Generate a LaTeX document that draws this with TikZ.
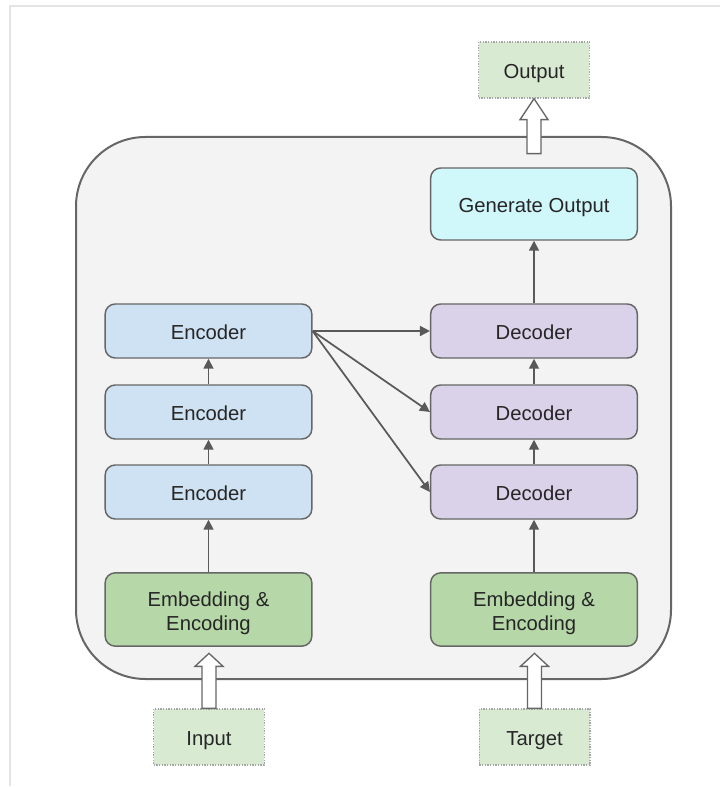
\documentclass[tikz,border=0pt]{standalone}
\usepackage{fontspec}
\setmainfont{Liberation Sans}
\usetikzlibrary{arrows.meta,calc}
\definecolor{bordergray}{HTML}{666666}
\definecolor{linegray}{HTML}{595959}
\definecolor{panel}{HTML}{F3F3F3}
\definecolor{encfill}{HTML}{CFE2F3}
\definecolor{decfill}{HTML}{D9D2E9}
\definecolor{embfill}{HTML}{B6D7A8}
\definecolor{genfill}{HTML}{D0F8FB}
\definecolor{iofill}{HTML}{D9EAD3}
\definecolor{framegray}{HTML}{E4E4E4}
\tikzset{
  block/.style={draw=bordergray, line width=1.1pt, rounded corners=7.5pt, minimum width=155pt, align=center, font=\fontsize{15.2}{18}\selectfont, text=black!85},
  oneline/.style={text height=12.5pt, text depth=0pt},
  encbox/.style={block, oneline, fill=encfill, minimum height=40.5pt},
  decbox/.style={block, oneline, fill=decfill, minimum height=40.5pt},
  embbox/.style={block, fill=embfill, minimum height=55pt, text height=32pt, text depth=0pt},
  genbox/.style={block, oneline, fill=genfill, minimum height=54pt},
  iobox/.style={draw=black!35, densely dotted, line width=1pt, fill=iofill, minimum width=83pt, minimum height=42pt, oneline, font=\fontsize{15.2}{18}\selectfont, text=black!85},
  conn/.style={draw=linegray, line width=1.3pt, -{Triangle[length=7.5pt,width=7.5pt]}},
  hollow/.style={draw=bordergray, line width=1pt, fill=white, line join=miter}
}
\begin{document}
\begin{tikzpicture}[x=0.75pt,y=-0.75pt]
\useasboundingbox (0,0) rectangle (720,787);
% faint outer frame
\draw[framegray, line width=1.5pt] (10,786) -- (10,6) -- (720,6);
% big panel
\draw[draw=bordergray, line width=1.5pt, fill=panel, rounded corners=52pt] (76,137) rectangle (671,679);

% nodes
\node[encbox] (e1) at (208.5,331) {Encoder};
\node[encbox] (e2) at (208.5,412) {Encoder};
\node[encbox] (e3) at (208.5,492) {Encoder};
\node[embbox] (emb1) at (208.5,609.5) {Embedding \&\\Encoding};
\node[decbox] (d1) at (534,331) {Decoder};
\node[decbox] (d2) at (534,412) {Decoder};
\node[decbox] (d3) at (534,492) {Decoder};
\node[embbox] (emb2) at (534,609.5) {Embedding \&\\Encoding};
\node[genbox] (gen) at (534,204) {Generate Output};
\node[iobox] (out) at (534,70) {Output};
\node[iobox] (in) at (209,737) {Input};
\node[iobox] (tgt) at (534.5,737) {Target};

% connectors
\draw[conn] (emb1.north) -- (e3.south);
\draw[conn] (e3.north) -- (e2.south);
\draw[conn] (e2.north) -- (e1.south);
\draw[conn] (emb2.north) -- (d3.south);
\draw[conn] (d3.north) -- (d2.south);
\draw[conn] (d2.north) -- (d1.south);
\draw[conn] (d1.north) -- (gen.south);
\draw[conn] (e1.east) -- (d1.west);
\draw[conn] (e1.east) -- (d2.west);
\draw[conn] (e1.east) -- (d3.west);

% hollow block arrows
\coordinate (ia) at (in.north);
\coordinate (ta) at (tgt.north);
\coordinate (oa) at (out.south);
\draw[hollow] ($(ia)+(-7,0)$) -- ++(0,-42) -- ++(-7,0) -- ($(ia)+(0,-55)$) -- ($(ia)+(14,-42)$) -- ++(-7,0) -- ($(ia)+(7,0)$) -- cycle;
\draw[hollow] ($(ta)+(-7,0)$) -- ++(0,-42) -- ++(-7,0) -- ($(ta)+(0,-55)$) -- ($(ta)+(14,-42)$) -- ++(-7,0) -- ($(ta)+(7,0)$) -- cycle;
\draw[hollow] ($(oa)+(-7,55)$) -- ++(0,-34) -- ++(-7,0) -- (oa) -- ($(oa)+(14,21)$) -- ++(-7,0) -- ($(oa)+(7,55)$) -- cycle;
\end{tikzpicture}
\end{document}
